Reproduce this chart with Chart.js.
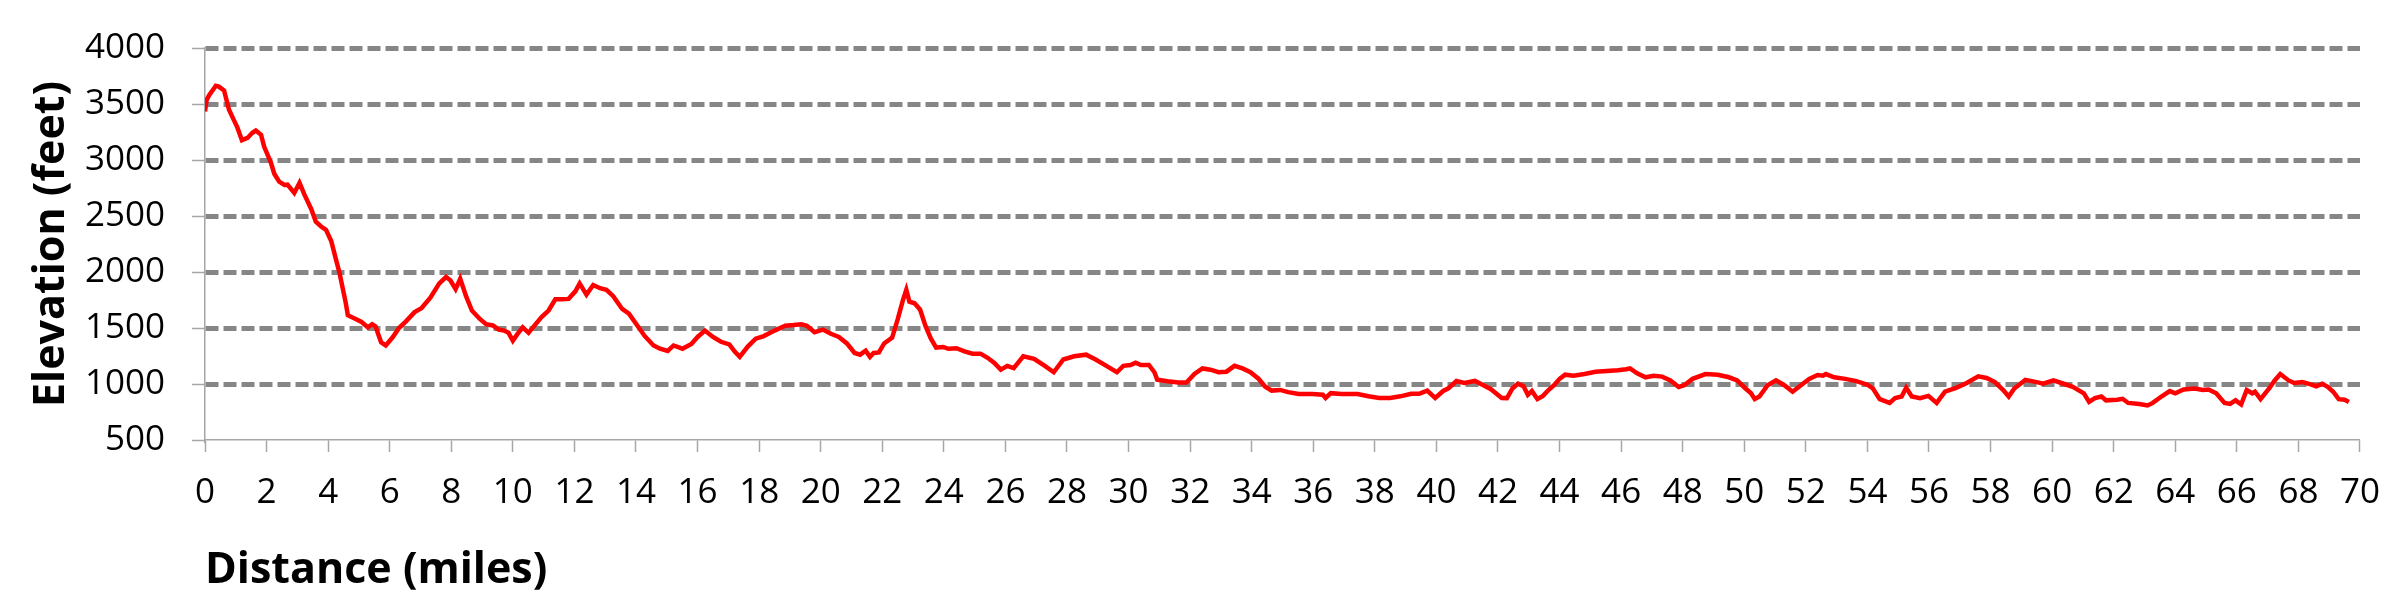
<!DOCTYPE html>
<html>
<head>
<meta charset="utf-8">
<script src="https://cdn.jsdelivr.net/npm/chart.js@4.4.1/dist/chart.umd.min.js"></script>
<style>
html,body{margin:0;padding:0;background:#fff;}
#wrap{width:2400px;height:600px;}
</style>
</head>
<body>
<div id="wrap"><canvas id="chart"></canvas></div>
<script>

/* -------- DATA -------- */

const miles = [
0, 0.05, 0.13, 0.35, 0.45, 0.62, 0.78, 0.95, 1.05, 1.2, 1.38, 1.54, 1.65, 1.82, 1.92,
2.14, 2.25, 2.41, 2.58, 2.68, 2.9, 3.07, 3.23, 3.45, 3.6, 3.77, 3.93, 4.1, 4.26, 4.37,
4.57, 4.64, 4.86, 5.07, 5.29, 5.43, 5.54, 5.72, 5.87, 6.09, 6.3, 6.52, 6.81, 7.03, 7.32,
7.61, 7.83, 7.97, 8.14, 8.29, 8.48, 8.67, 8.91, 9.13, 9.35, 9.54, 9.71, 9.86, 10.0, 10.14,
10.32, 10.51, 10.72, 10.94, 11.16, 11.38, 11.59, 11.81, 12.03, 12.17, 12.39, 12.61, 12.83, 13.04, 13.26,
13.55, 13.77, 13.99, 14.28, 14.57, 14.78, 15.03, 15.22, 15.51, 15.8, 16.0, 16.24, 16.5, 16.76, 17.03,
17.2, 17.37, 17.63, 17.89, 18.15, 18.5, 18.85, 19.11, 19.37, 19.55, 19.8, 20.07, 20.33, 20.59, 20.85,
21.1, 21.28, 21.46, 21.6, 21.72, 21.89, 22.06, 22.32, 22.5, 22.67, 22.78, 22.88, 23.05, 23.23, 23.4,
23.58, 23.75, 23.98, 24.15, 24.41, 24.67, 24.93, 25.19, 25.42, 25.63, 25.85, 26.06, 26.27, 26.58, 26.93,
27.28, 27.57, 27.88, 28.23, 28.62, 28.93, 29.28, 29.62, 29.83, 30.06, 30.23, 30.4, 30.66, 30.84, 30.93,
31.27, 31.62, 31.88, 32.14, 32.4, 32.66, 32.92, 33.18, 33.44, 33.7, 33.96, 34.22, 34.44, 34.65, 34.92,
35.18, 35.53, 35.97, 36.31, 36.4, 36.57, 36.92, 37.44, 37.79, 38.14, 38.49, 38.83, 39.18, 39.44, 39.7,
39.96, 40.22, 40.39, 40.65, 40.91, 41.25, 41.51, 41.77, 42.12, 42.29, 42.47, 42.65, 42.83, 42.97, 43.1,
43.28, 43.46, 43.64, 43.82, 44.0, 44.18, 44.45, 44.81, 45.17, 45.53, 45.89, 46.16, 46.29, 46.52, 46.79,
47.06, 47.33, 47.6, 47.87, 48.05, 48.32, 48.74, 49.14, 49.5, 49.77, 50.04, 50.22, 50.34, 50.49, 50.76,
51.03, 51.3, 51.57, 51.84, 52.11, 52.38, 52.56, 52.65, 52.92, 53.28, 53.64, 54.0, 54.18, 54.4, 54.72,
54.9, 55.11, 55.26, 55.44, 55.71, 55.98, 56.25, 56.52, 56.88, 57.24, 57.6, 57.87, 58.14, 58.41, 58.59,
58.77, 59.13, 59.5, 59.71, 60.04, 60.3, 60.67, 61.03, 61.2, 61.39, 61.6, 61.75, 62.11, 62.29, 62.47,
62.83, 63.1, 63.27, 63.55, 63.82, 64.0, 64.27, 64.63, 64.9, 65.08, 65.33, 65.6, 65.78, 65.96, 66.14,
66.32, 66.5, 66.59, 66.77, 67.05, 67.23, 67.41, 67.68, 67.86, 68.13, 68.4, 68.58, 68.77, 68.95, 69.13,
69.31, 69.5, 69.64
];

const elevation = [
3434, 3534, 3577, 3663, 3655, 3620, 3449, 3349, 3291, 3177, 3197, 3243, 3263, 3226, 3120,
2977, 2877, 2806, 2777, 2780, 2706, 2797, 2691, 2563, 2449, 2406, 2377, 2277, 2106, 1991,
1727, 1614, 1585, 1557, 1506, 1534, 1514, 1372, 1344, 1415, 1500, 1557, 1642, 1676, 1770,
1898, 1955, 1926, 1847, 1940, 1784, 1656, 1585, 1534, 1523, 1486, 1477, 1457, 1386, 1443,
1506, 1457, 1528, 1599, 1656, 1756, 1756, 1760, 1827, 1898, 1798, 1884, 1855, 1841, 1784,
1670, 1628, 1543, 1429, 1344, 1315, 1295, 1344, 1315, 1358, 1420, 1477, 1420, 1377, 1354,
1291, 1242, 1334, 1405, 1428, 1477, 1520, 1526, 1534, 1520, 1463, 1486, 1448, 1420, 1362,
1277, 1262, 1297, 1242, 1277, 1282, 1362, 1414, 1577, 1749, 1841, 1735, 1721, 1663, 1520,
1405, 1325, 1331, 1314, 1319, 1291, 1271, 1271, 1234, 1191, 1128, 1162, 1142, 1248, 1225,
1162, 1105, 1219, 1248, 1262, 1219, 1162, 1105, 1162, 1170, 1191, 1170, 1170, 1105, 1039,
1024, 1013, 1013, 1090, 1139, 1128, 1105, 1110, 1162, 1139, 1105, 1047, 976, 941, 947,
927, 910, 910, 904, 875, 918, 910, 910, 890, 875, 875, 890, 913, 913, 941,
875, 938, 961, 1027, 1010, 1027, 990, 953, 875, 874, 960, 1003, 980, 903, 937,
865, 894, 946, 989, 1046, 1083, 1074, 1089, 1109, 1117, 1123, 1132, 1140, 1095, 1060,
1074, 1066, 1032, 974, 989, 1046, 1089, 1083, 1060, 1032, 960, 917, 865, 888, 989,
1032, 989, 931, 989, 1046, 1080, 1074, 1089, 1060, 1046, 1026, 994, 960, 865, 831,
874, 888, 966, 888, 874, 894, 831, 931, 966, 1011, 1069, 1054, 1017, 946, 888,
960, 1037, 1017, 1003, 1032, 1009, 974, 917, 840, 874, 888, 854, 860, 868, 831,
822, 808, 831, 888, 937, 917, 951, 960, 946, 951, 917, 831, 822, 854, 817,
946, 917, 931, 865, 960, 1032, 1089, 1032, 1009, 1017, 997, 980, 1003, 974, 931,
865, 860, 840
];

const yTicks = [500, 1000, 1500, 2000, 2500, 3000, 3500, 4000];
const xMin = 0, xMax = 70, xStep = 2;

const points = miles.map((m, i) => ({x: m, y: elevation[i]}));


/* -------- CHART -------- */

const axisGray = "#a6a6a6";
const gridGray = "#868686";

new Chart(document.getElementById("chart"), {

type: "line",

data: {
datasets: [{
label: "Elevation",
data: points,
borderColor: "#ff0000",
borderWidth: 4.5,
pointRadius: 0,
tension: 0,
fill: false
}]
},

options: {
responsive: true,
maintainAspectRatio: false,
devicePixelRatio: 1,
animation: false,
layout: { padding: { top: 32, right: 39, bottom: 0, left: 0 } },
plugins: { legend: { display: false }, tooltip: { enabled: false } },
scales: {
x: {
type: "linear",
min: xMin,
max: xMax,
afterFit: s => { s.height = 160; },
ticks: {
stepSize: xStep,
autoSkip: false,
maxRotation: 0,
padding: 20,
color: "#000",
font: { family: "Open Sans", size: 35 }
},
grid: {
drawOnChartArea: false,
drawTicks: true,
tickLength: 12,
tickColor: axisGray,
tickWidth: 1.5
},
border: { color: axisGray, width: 1.5 },
title: {
display: true,
text: "Distance (miles)",
align: "start",
color: "#000",
font: { family: "Open Sans", size: 43, weight: "bold" },
padding: { top: 0, bottom: 3 }
}
},
y: {
min: yTicks[0],
max: yTicks[yTicks.length - 1],
afterFit: s => { s.width = 205; },
afterBuildTicks: s => { s.ticks = yTicks.map(v => ({value: v})); },
ticks: {
padding: 27,
color: "#000",
font: { family: "Open Sans", size: 35 },
callback: v => String(v)
},
grid: {
color: c => (c.tick && c.tick.value === yTicks[0]) ? "rgba(0,0,0,0)" : gridGray,
lineWidth: 5,
drawTicks: true,
tickLength: 13,
tickColor: axisGray,
tickWidth: 1.5,
tickBorderDash: []
},
border: { color: axisGray, width: 1.5, dash: [13, 5] },
title: {
display: true,
text: "Elevation (feet)",
color: "#000",
font: { family: "Open Sans", size: 43, weight: "bold" },
padding: { top: 26, bottom: 0 }
}
}
}
}

});

</script>
</body>
</html>
